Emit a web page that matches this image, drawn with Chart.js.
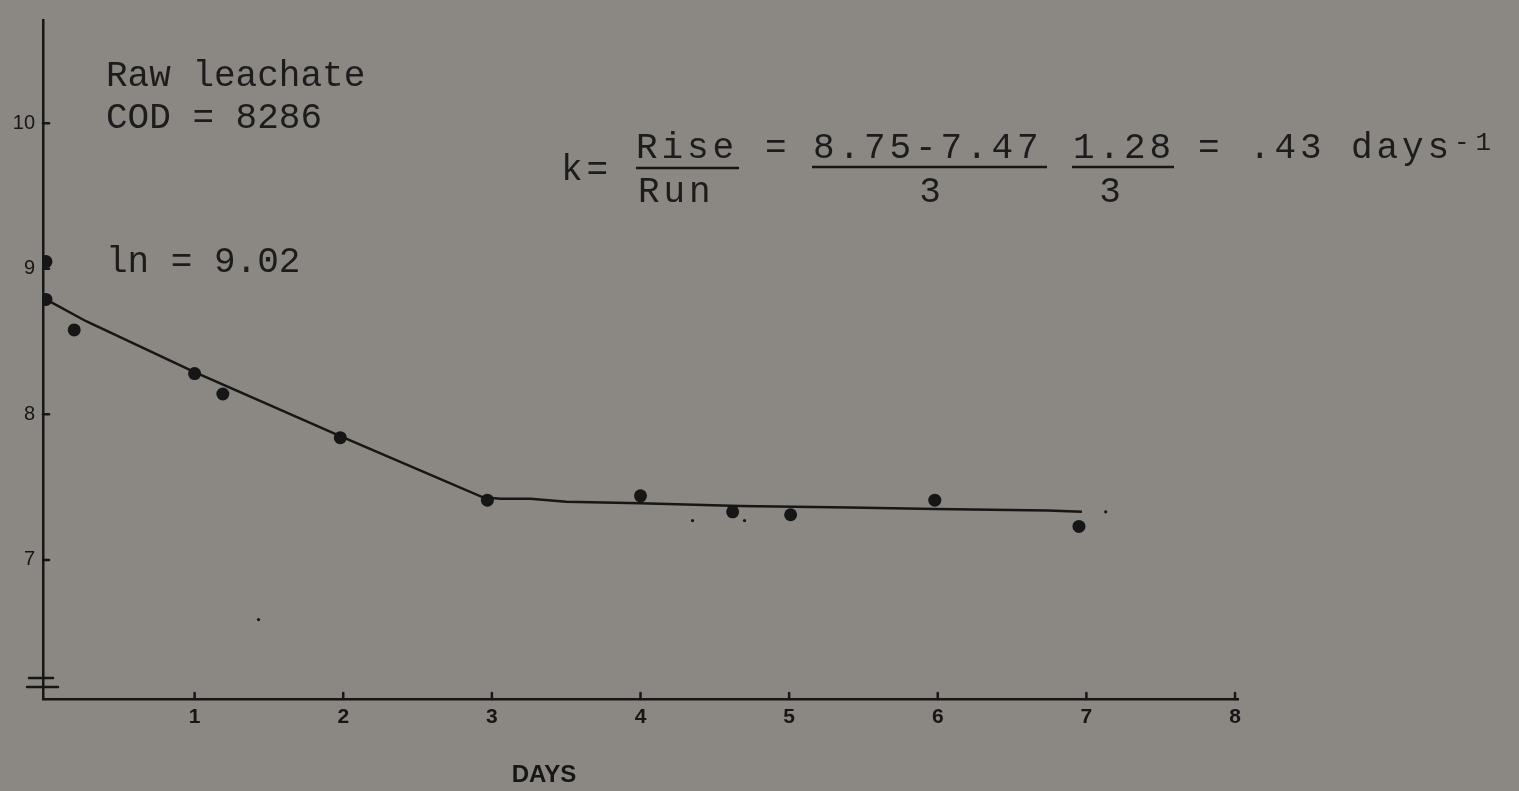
<!DOCTYPE html>
<html>
<head>
<meta charset="utf-8">
<script src="https://cdn.jsdelivr.net/npm/chart.js@4.4.1/dist/chart.umd.min.js"></script>
<style>
  html, body { margin: 0; padding: 0; background: #8b8782; overflow: hidden; }
  #wrap { width: 1519px; height: 791px; position: relative; }
</style>
</head>
<body>
<div id="wrap"><canvas id="c"></canvas></div>
<script>
// Measured points: day vs ln(COD)
const obsDays = [0, 0, 0.19, 1.0, 1.19, 1.98, 2.97, 4.0, 4.62, 5.01, 5.98, 6.95];
const obsLnCOD = [9.05, 8.79, 8.58, 8.28, 8.14, 7.84, 7.41, 7.44, 7.33, 7.31, 7.41, 7.23];
// Hand-drawn fitted line
const fitDays = [0, 0.27, 1.0, 1.98, 2.94, 3.06, 3.26, 3.5, 4.0, 4.67, 5.41, 5.98, 6.74, 6.97];
const fitLnCOD = [8.79, 8.64, 8.29, 7.85, 7.43, 7.42, 7.42, 7.40, 7.39, 7.37, 7.36, 7.35, 7.34, 7.33];
// Stray specks on the page
const speckDays = [1.43, 4.35, 4.70, 7.13];
const speckLn = [6.59, 7.27, 7.27, 7.33];
// Axes
const xTicks = [1, 2, 3, 4, 5, 6, 7, 8];
const yTicks = [7, 8, 9, 10];
const xTitle = 'DAYS';
const noteLines = ['Raw leachate', 'COD = 8286', 'ln = 9.02'];

const ink = '#161616';
const mono = '"Liberation Mono", "Courier New", monospace';

const toXY = (xs, ys) => xs.map((x, i) => ({ x: x, y: ys[i] }));

const decor = {
  id: 'decor',
  beforeDraw(chart) {
    const ctx = chart.ctx;
    ctx.save();
    ctx.fillStyle = '#8b8782';
    ctx.fillRect(0, 0, chart.width, chart.height);
    ctx.restore();
  },
  afterDraw(chart) {
    const ctx = chart.ctx;
    const xs = chart.scales.x, ys = chart.scales.y;
    const ca = chart.chartArea;
    ctx.save();
    ctx.strokeStyle = ink;
    ctx.fillStyle = ink;
    ctx.lineWidth = 2.5;
    ctx.lineCap = 'round';
    // inward tick marks
    ys.ticks.forEach(t => {
      const py = ys.getPixelForValue(t.value);
      ctx.beginPath(); ctx.moveTo(ca.left, py); ctx.lineTo(ca.left + 6, py); ctx.stroke();
    });
    xs.ticks.forEach(t => {
      const px = xs.getPixelForValue(t.value);
      ctx.beginPath(); ctx.moveTo(px, ca.bottom); ctx.lineTo(px, ca.bottom - 6); ctx.stroke();
    });
    // axis break marks
    ctx.beginPath(); ctx.moveTo(29, 678); ctx.lineTo(53, 678); ctx.stroke();
    ctx.beginPath(); ctx.moveTo(27, 687); ctx.lineTo(58, 687); ctx.stroke();
    // x title
    ctx.font = 'bold 24px "Liberation Sans", Arial, sans-serif';
    ctx.textAlign = 'center';
    ctx.textBaseline = 'middle';
    ctx.fillText(xTitle, 544, 775);
    // typed notes
    ctx.fillStyle = '#1c1c1c';
    ctx.textAlign = 'left';
    ctx.textBaseline = 'alphabetic';
    ctx.font = '36px ' + mono;
    ctx.fillText(noteLines[0], 106, 86);
    ctx.fillText(noteLines[1], 106, 128);
    ctx.fillText(noteLines[2], 106, 272);
    // formula
    ctx.letterSpacing = '3.9px';
    ctx.fillText('k=', 561, 180);
    ctx.fillText('Rise', 636, 158);
    ctx.fillText('Run', 638, 202);
    ctx.fillText('=', 765, 158);
    ctx.fillText('8.75-7.47', 813, 158);
    ctx.fillText('1.28', 1073, 158);
    ctx.fillText('= .43 days', 1198, 158);
    ctx.textAlign = 'center';
    ctx.fillText('3', 932, 202);
    ctx.fillText('3', 1112, 202);
    ctx.textAlign = 'left';
    ctx.letterSpacing = '6px';
    ctx.font = '26px ' + mono;
    ctx.fillText('-1', 1454, 150);
    ctx.letterSpacing = '0px';
    ctx.lineWidth = 2.5;
    ctx.lineCap = 'butt';
    [[636, 739, 168], [812, 1047, 167], [1072, 1174, 167]].forEach(([a, b, y]) => {
      ctx.beginPath(); ctx.moveTo(a, y); ctx.lineTo(b, y); ctx.stroke();
    });
    ctx.restore();
  }
};

new Chart(document.getElementById('c'), {
  type: 'scatter',
  data: {
    datasets: [
      {
        label: 'fit',
        data: toXY(fitDays, fitLnCOD),
        showLine: true,
        borderColor: ink,
        borderWidth: 2.5,
        pointRadius: 0,
        tension: 0,
        order: 2
      },
      {
        label: 'ln COD',
        data: toXY(obsDays, obsLnCOD),
        showLine: false,
        backgroundColor: ink,
        borderColor: ink,
        pointRadius: 6.5,
        pointBorderWidth: 0,
        order: 1
      },
      {
        label: 'specks',
        data: toXY(speckDays, speckLn),
        showLine: false,
        backgroundColor: ink,
        borderColor: ink,
        pointRadius: 1.6,
        pointBorderWidth: 0,
        order: 3
      }
    ]
  },
  options: {
    responsive: true,
    maintainAspectRatio: false,
    animation: false,
    events: [],
    layout: { padding: { top: 10, right: 281, left: 0, bottom: 0 } },
    plugins: { legend: { display: false }, tooltip: { enabled: false }, title: { display: false } },
    scales: {
      x: {
        type: 'linear',
        min: -0.02,
        max: 8.02,
        afterBuildTicks: s => { s.ticks = xTicks.map(v => ({ value: v })); },
        afterFit: s => { s.height = 92; },
        grid: { display: false, drawTicks: false },
        border: { display: true, color: ink, width: 2.5 },
        ticks: {
          autoSkip: false,
          maxRotation: 0,
          padding: 6,
          color: ink,
          font: { family: '"Liberation Sans", Arial, sans-serif', size: 21, weight: 'bold' },
          callback: v => String(v)
        }
      },
      y: {
        type: 'linear',
        min: 6.044,
        max: 10.71,
        afterBuildTicks: s => { s.ticks = yTicks.map(v => ({ value: v })); },
        afterFit: s => { s.width = 43; },
        grid: { display: false, drawTicks: false },
        border: { display: true, color: ink, width: 2.5 },
        ticks: {
          autoSkip: false,
          padding: 8,
          color: ink,
          font: { family: '"Liberation Sans", Arial, sans-serif', size: 20 },
          callback: v => String(v)
        }
      }
    }
  },
  plugins: [decor]
});
</script>
</body>
</html>
